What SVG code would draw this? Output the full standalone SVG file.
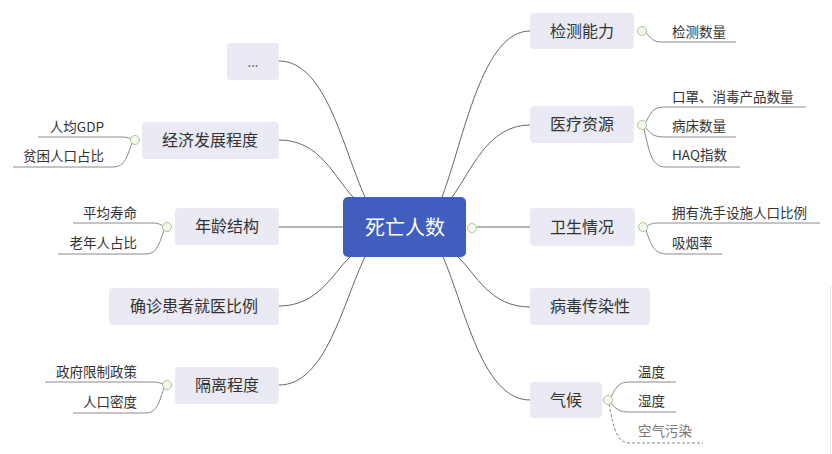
<svg xmlns="http://www.w3.org/2000/svg" width="832" height="454" viewBox="0 0 832 454">
<style>
text{font-family:"Noto Sans CJK SC","Noto Sans",sans-serif;fill:#333}
.n rect{fill:#E9EAF3}
.t{font-size:16px;text-anchor:middle}
.s{font-size:13.5px}
.e{text-anchor:end}
.c path{fill:none;stroke:#666;stroke-width:1}
.u path{fill:none;stroke:#8a8a8a;stroke-width:1}
.k{fill:#f5f8ee;stroke:#a9c793;stroke-width:1}
</style>
<rect width="832" height="454" fill="#fff"/>
<line x1="830.5" y1="286" x2="830.5" y2="454" stroke="#e4e4e4" stroke-width="1"/>
<g id="connectors" class="c">
<path d="M279,61 C326,61 343,149 365,197"/>
<path d="M279,140 C320,140 334,177 353,197"/>
<path d="M279,227 H343"/>
<path d="M279,306 C318,306 332,274 350,257"/>
<path d="M279,385 C326,385 343,302 365,257"/>
<path d="M530,31 C482,31 464,139 442,197"/>
<path d="M530,125 C487,125 471,172 452,197"/>
<path d="M477,227 H530"/>
<path d="M530,307 C490,307 476,274 458,257"/>
<path d="M530,400 C482,400 465,307 443,257"/>
</g>
<g id="subconnectors" class="u">
<path d="M646,33 C652,38 652,42 662,42 H736"/>
<path d="M646,122 C652,110 654,107 666,107 H806"/>
<path d="M646,128 C652,135 654,137 666,137 H736"/>
<path d="M644,129 C650,155 652,167 666,167 H740"/>
<path d="M647,226 C652,223 655,223 662,223 H820"/>
<path d="M646,230 C652,248 655,254 668,254 H722"/>
<path d="M611,397 C617,385 620,382 630,382 H676"/>
<path d="M611,403 C617,410 620,412 630,412 H676"/>
<path d="M609,404 C614,430 617,443 630,443 H703" stroke-dasharray="3,2"/>
<path d="M131,139 C127,137 125,137 120,137 H38"/>
<path d="M132,143 C126,160 124,167 112,167 H13"/>
<path d="M163,226 C158,223 156,223 150,223 H73"/>
<path d="M164,230 C158,248 156,254 145,254 H58"/>
<path d="M163,384 C158,382 156,382 150,382 H45"/>
<path d="M164,388 C158,406 156,413 145,413 H73"/>
</g>
<g id="center">
<rect x="343" y="197" width="123" height="60" rx="5" fill="#405EBE"/>
<text x="405" y="235" style="font-size:20px;text-anchor:middle;fill:#fff">死亡人数</text>
<circle class="k" cx="472" cy="228" r="4.5"/>
</g>
<g id="n-dots" class="n"><rect x="227" y="43" width="52" height="37" rx="4"/><text class="t" x="253" y="67" style="font-size:13px;fill:#555">...</text></g>
<g id="n-econ" class="n"><rect x="142" y="122" width="137" height="37" rx="4"/><text class="t" x="210" y="146">经济发展程度</text><circle class="k" cx="135" cy="140" r="4.5"/></g>
<g id="n-age" class="n"><rect x="175" y="208" width="104" height="37" rx="4"/><text class="t" x="227" y="232">年龄结构</text><circle class="k" cx="167" cy="227" r="4.5"/></g>
<g id="n-diag" class="n"><rect x="109" y="288" width="170" height="37" rx="4"/><text class="t" x="194" y="312">确诊患者就医比例</text></g>
<g id="n-iso" class="n"><rect x="175" y="367" width="104" height="37" rx="4"/><text class="t" x="227" y="391">隔离程度</text><circle class="k" cx="167" cy="385" r="4.5"/></g>
<g id="n-test" class="n"><rect x="530" y="13" width="104" height="36" rx="4"/><text class="t" x="582" y="37">检测能力</text><circle class="k" cx="642" cy="31" r="4.5"/></g>
<g id="n-med" class="n"><rect x="530" y="106" width="104" height="37" rx="4"/><text class="t" x="582" y="130">医疗资源</text><circle class="k" cx="642" cy="125" r="4.5"/></g>
<g id="n-hyg" class="n"><rect x="530" y="208" width="105" height="38" rx="4"/><text class="t" x="582" y="233">卫生情况</text><circle class="k" cx="643" cy="227" r="4.5"/></g>
<g id="n-virus" class="n"><rect x="530" y="288" width="120" height="37" rx="4"/><text class="t" x="590" y="312">病毒传染性</text></g>
<g id="n-clim" class="n"><rect x="530" y="382" width="72" height="36" rx="4"/><text class="t" x="566" y="406">气候</text><circle class="k" cx="608" cy="400" r="4.5"/></g>
<g id="subs">
<text class="s" x="672" y="37">检测数量</text>
<text class="s" x="672" y="102">口罩、消毒产品数量</text>
<text class="s" x="672" y="131">病床数量</text>
<text class="s" x="672" y="160">HAQ指数</text>
<text class="s" x="672" y="218">拥有洗手设施人口比例</text>
<text class="s" x="672" y="248">吸烟率</text>
<text class="s" x="638" y="377">温度</text>
<text class="s" x="638" y="406">湿度</text>
<text class="s" x="638" y="436" style="fill:#777">空气污染</text>
<text class="s e" x="104" y="132">人均GDP</text>
<text class="s e" x="104" y="161">贫困人口占比</text>
<text class="s e" x="137" y="218">平均寿命</text>
<text class="s e" x="137" y="248">老年人占比</text>
<text class="s e" x="137" y="377">政府限制政策</text>
<text class="s e" x="137" y="407">人口密度</text>
</g>
</svg>
